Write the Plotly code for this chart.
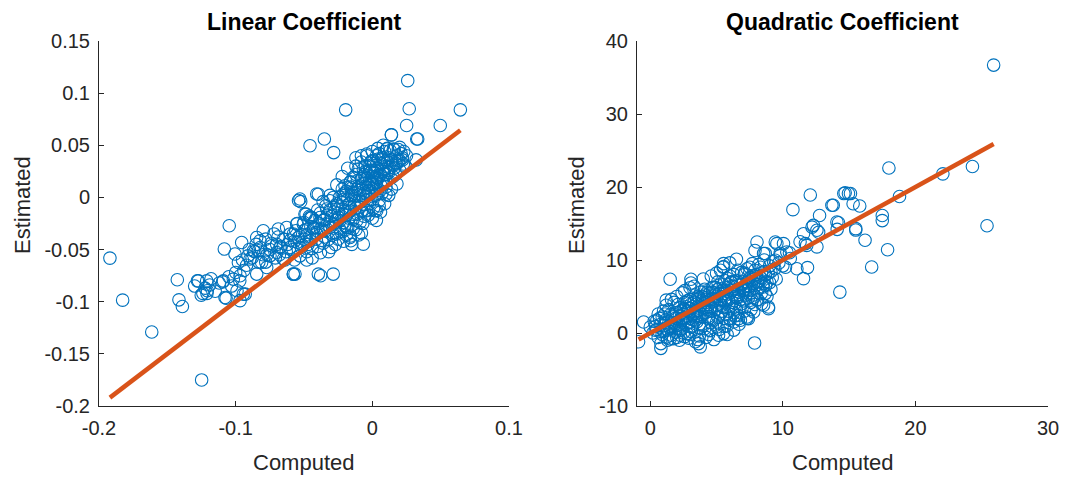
import plotly.graph_objects as go
from plotly.subplots import make_subplots

# Linear coefficient: computed vs. estimated
lin_computed = [
    0.0259, -0.0195, 0.027, 0.0644, 0.0251, 0.0497, -0.0456, -0.0351, -0.0283, 0.0139,
    0.0332, 0.032, -0.053, -0.0395, -0.0485, 0.002, -0.0524, -0.0158, -0.0066, -0.0578,
    -0.0378, -0.0286, -0.192, -0.1827, -0.1614, -0.1249, -0.1427, -0.1415, -0.139, -0.1047,
    -0.1083, -0.128, -0.1252, -0.1224, -0.1212, -0.1208, -0.1095, -0.107, -0.0968, -0.0956,
    -0.1005, -0.098, -0.1017, -0.0968, -0.093, -0.099, -0.0895, -0.087, -0.0822, -0.0798,
    -0.0846, -0.0773, -0.081, -0.0736, -0.0688, -0.0676, -0.0627, -0.0651, -0.0578, -0.0603,
    -0.0578, -0.0542, -0.0554, -0.070, -0.0749, -0.0846, -0.0834, -0.054, -0.1273, -0.130,
    -0.118, -0.124, -0.109, -0.1078, -0.0944, -0.0566, -0.0395, -0.0493, -0.0444,
    0.014, 0.0325, 0.0105, 0.0154, 0.0202, 0.0227, -0.0041, -0.0005, 0.0044, 0.0068,
    -0.0103, -0.0066, -0.014, -0.0163, -0.020, -0.0212, -0.0285, -0.031, -0.0334, -0.0407,
    -0.0383, -0.0456, -0.0505, -0.0041, 0.0007, 0.0032, 0.0056, 0.008, 0.0105, 0.0129,
    0.0178, -0.009, -0.0114, -0.0041, -0.0163, -0.014, -0.0212, -0.0237, -0.0285, -0.031,
    -0.0359, -0.0407, -0.0456, -0.0188, -0.0261, -0.0163, -0.0114, -0.0041, 0.0032, -0.0017,
    -0.009, -0.005, -0.002, 0.001, 0.004, -0.008, -0.003, 0.000, 0.003, -0.006,
    -0.010, -0.012, -0.015, -0.018, -0.013, -0.008, -0.002, 0.002, 0.006, 0.008,
    0.010, 0.012, -0.004, 0.000, 0.005, 0.009, 0.014, 0.016, 0.018, -0.020,
    -0.022, -0.025, -0.017, -0.011, -0.006, -0.027, -0.030, -0.033, -0.029, -0.024,
    -0.020, -0.035, -0.038, -0.041, -0.044, -0.040, -0.036, -0.032, -0.047, -0.050,
    -0.048, -0.052, -0.055, -0.058, -0.045, -0.042, -0.038, -0.034, -0.028, -0.024,
    -0.019, -0.016, -0.012, -0.008, -0.002, 0.001, 0.004, 0.007, 0.011, -0.004,
    -0.009, -0.014, -0.019, -0.025, -0.030, -0.010, 0.000, 0.005, -0.060, -0.062,
    -0.065, -0.068, -0.064, -0.057, -0.053, -0.050, -0.046, -0.055, -0.070, -0.072,
    -0.075, -0.078, -0.080, -0.085, -0.088, -0.090, -0.092, -0.095, -0.078, -0.007,
    -0.001, 0.003, 0.006, 0.009, 0.012, 0.015, 0.017, 0.020, 0.022, 0.024,
    -0.015, -0.011, -0.007, -0.003, 0.002, -0.026, -0.021, -0.017, -0.031, -0.036,
    0.007, 0.019, 0.023, -0.012, -0.005, 0.0, -0.016, -0.022, -0.043, -0.048,
    -0.057, -0.053, -0.051, -0.049, -0.046, -0.044, -0.043, -0.041, -0.039, -0.037,
    -0.035, -0.034, -0.033, -0.031, -0.029, -0.028, -0.027, -0.026, -0.025, -0.023,
    -0.022, -0.021, -0.020, -0.019, -0.018, -0.017, -0.016, -0.015, -0.014, -0.013,
    -0.012, -0.011, -0.010, -0.009, -0.008, -0.007, -0.006, -0.005, -0.004, -0.003,
    -0.002, -0.001, 0.000, 0.001, 0.002, 0.003, 0.004, 0.005, 0.006, 0.007,
    0.008, 0.009, 0.010, 0.011, 0.012, 0.013, 0.015, 0.016, 0.017, 0.019,
    0.021, 0.018, 0.014, 0.010, 0.005, 0.001, -0.003, -0.007, -0.012, -0.016,
    -0.021, -0.027, -0.032, -0.038, -0.044, -0.048, -0.036, -0.031, -0.040, -0.045,
    -0.050, -0.056, -0.060, -0.063, -0.067, -0.069, -0.071, -0.074, -0.077, -0.082,
    -0.083, -0.086, -0.091, -0.094, -0.097, -0.100, -0.103, -0.105, -0.112, -0.115,
    -0.119, -0.121, -0.026, -0.022, -0.018, -0.008, 0.004, 0.008, 0.011, 0.020,
    0.022, 0.025, 0.006, 0.003, -0.008, -0.015, 0.009, 0.012, -0.001, -0.005,
    0.003,
]
lin_estimated = [
    0.112, 0.084, 0.085, 0.084, 0.069, 0.069, 0.0496, 0.056, 0.043, 0.060,
    0.056, 0.036, -0.0015, 0.003, -0.016, -0.0128, -0.004, -0.0416, -0.0448, -0.0735,
    -0.0751, -0.0735, -0.0582, -0.0985, -0.129, -0.175, -0.079, -0.0982, -0.1046, -0.0272,
    -0.0495, -0.080, -0.0937, -0.087, -0.080, -0.0895, -0.081, -0.0966, -0.099, -0.0432,
    -0.0543, -0.0624, -0.0783, -0.0751, -0.0927, -0.0895, -0.0591, -0.0512, -0.0416, -0.032,
    -0.0735, -0.0672, -0.0624, -0.0464, -0.0303, -0.048, -0.0288, -0.0591, -0.0735, -0.048,
    -0.0351, -0.0384, -0.0255, -0.0528, -0.056, -0.0384, -0.0512, -0.003, -0.080, -0.085,
    -0.078, -0.092, -0.080, -0.096, -0.0927, -0.0735, -0.0735, -0.016, -0.0192,
    0.060, 0.056, 0.0464, 0.0464, 0.0352, 0.032, 0.0416, 0.0352, 0.0368, 0.032,
    0.0272, 0.0272, 0.0192, 0.0144, 0.0112, 0.0033, 0.0, -0.0032, -0.0111, 0.0033,
    -0.0192, -0.0192, -0.0255, 0.0096, 0.0128, 0.0192, 0.0064, 0.016, 0.0224, 0.0288,
    0.032, 0.0033, -0.0032, -0.0032, -0.0096, -0.016, -0.016, -0.0224, -0.0255, -0.0288,
    -0.032, -0.0351, -0.0416, -0.0288, -0.0351, -0.0384, -0.0224, -0.0128, -0.0128, 0.0033,
    -0.0096, 0.025, 0.030, 0.035, 0.028, 0.018, 0.012, 0.020, 0.008, 0.004,
    0.010, 0.022, 0.005, -0.002, -0.008, -0.004, -0.006, 0.002, 0.012, 0.025,
    0.030, 0.038, 0.040, 0.044, 0.042, 0.044, 0.036, 0.028, 0.040, -0.012,
    -0.005, -0.015, -0.020, -0.016, -0.018, -0.022, -0.018, -0.026, -0.034, -0.030,
    -0.027, -0.038, -0.030, -0.040, -0.035, -0.047, -0.044, -0.040, -0.045, -0.040,
    -0.052, -0.048, -0.043, -0.050, -0.028, -0.022, -0.015, -0.008, -0.010, 0.000,
    0.006, 0.015, 0.030, 0.034, 0.016, 0.010, 0.018, 0.004, 0.016, -0.012,
    -0.024, -0.030, -0.036, -0.040, -0.048, -0.036, -0.020, -0.008, -0.035, -0.045,
    -0.040, -0.055, -0.060, -0.060, -0.056, -0.032, -0.018, -0.025, -0.045, -0.035,
    -0.050, -0.040, -0.055, -0.045, -0.058, -0.050, -0.065, -0.060, -0.062, 0.020,
    0.024, 0.014, 0.022, 0.034, 0.026, 0.020, 0.033, 0.026, 0.038, 0.030,
    0.002, 0.008, 0.002, 0.006, 0.026, -0.008, -0.002, -0.014, -0.012, -0.022,
    0.038, 0.046, 0.044, 0.038, 0.014, 0.026, 0.010, 0.008, -0.030, -0.036,
    -0.042, -0.037, -0.046, -0.031, -0.038, -0.049, -0.029, -0.034, -0.025, -0.041,
    -0.021, -0.032, -0.017, -0.024, -0.036, -0.014, -0.028, -0.006, -0.019, -0.033,
    -0.011, -0.024, 0.002, -0.017, -0.029, -0.006, -0.013, 0.009, -0.021, 0.002,
    -0.010, 0.016, -0.003, 0.007, -0.013, 0.013, 0.022, 0.001, 0.018, 0.006,
    0.026, -0.002, 0.013, 0.024, 0.017, 0.031, 0.004, 0.021, 0.033, 0.015,
    0.038, 0.022, 0.010, 0.034, 0.024, 0.045, 0.031, 0.046, 0.022, 0.035,
    0.042, 0.013, 0.008, 0.003, -0.003, -0.010, -0.017, -0.025, -0.031, -0.037,
    -0.042, -0.045, -0.052, -0.053, -0.058, -0.060, -0.004, 0.002, -0.012, -0.020,
    -0.024, -0.032, -0.041, -0.052, -0.047, -0.038, -0.058, -0.044, -0.055, -0.048,
    -0.062, -0.052, -0.056, -0.070, -0.080, -0.072, -0.085, -0.076, -0.082, -0.090,
    -0.084, -0.092, 0.012, 0.020, 0.028, 0.040, 0.047, 0.050, 0.047, 0.048,
    0.036, 0.040, -0.014, -0.022, -0.034, -0.045, -0.006, 0.002, 0.034, 0.030,
    0.040,
]

# Quadratic coefficient: computed vs. estimated
quad_computed = [
    25.9, 18.0, 22.07, 24.3, 18.8, 17.5, 25.4, 14.7, 15.1, 13.8,
    15.3, 15.8, 14.2, 15.5, 14.1, 15.5, 16.2, 17.9, 16.7, 14.3,
    17.5, 12.07, 10.76, 13.7, 14.6, 14.95, 12.77, 12.3, 12.57, 14.08,
    11.56, 11.7, 12.57, 11.3, 11.06, 11.86, 11.56, 8.05, 8.55, 9.43,
    10.05, 10.3, 9.43, 10.56, 5.53, 8.3, 8.67, 8.92, 8.55, 7.8,
    7.3, 6.8, 6.3, 7.8, 7.04, 1.5, 3.07, 3.07, 1.2, -0.5,
    -0.88, 0.8, 0.8, 3.77, 3.64, 7.87, 5.53, 7.9, 8.67, 9.55,
    9.8, 12.2, 12.7, 11.8, 8.55, 8.05, 8.92, 7.41, 6.66, 5.53,
    5.15, 4.52, 5.03, 6.03, 2.77, 2.26, 1.76, 1.26, 1.0, 0.38,
    0.0, 0.5,
    0.5, 0.8, 1.0, 1.2, 1.4, 1.5, 1.6, 1.8, 2.0, 2.1,
    2.2, 2.3, 2.5, 2.5, 2.6, 2.7, 2.8, 3.0, 3.0, 3.1,
    3.2, 3.3, 3.4, 3.5, 3.5, 3.6, 3.7, 3.8, 3.8, 3.9,
    4.0, 4.0, 4.1, 4.2, 4.3, 4.4, 4.5, 4.5, 4.6, 4.7,
    4.8, 4.9, 5.0, 5.0, 5.1, 5.2, 5.3, 5.4, 5.5, 5.5,
    5.6, 5.7, 5.8, 5.9, 6.0, 6.0, 6.1, 6.2, 6.3, 6.4,
    6.5, 6.5, 6.6, 6.7, 6.8, 6.9, 7.0, 7.0, 7.1, 7.2,
    7.3, 7.4, 7.5, 7.6, 7.7, 7.8, 7.9, 8.0, 8.1, 8.2,
    8.3, 8.5, 8.6, 8.8, 9.0, 9.2, 9.4, 9.7, 2.0, 3.0,
    1.8, 2.4, 4.0, 5.0, 5.5, 6.0, 6.5, 1.0, 0.3, 0.6,
    1.3, 2.2, 2.9, 3.4, 4.2, 4.8, 5.8, 6.3,
    1.1, 1.7, 2.4, 2.9, 3.3, 3.7, 4.1, 4.6, 5.2, 5.7,
    6.2, 6.7, 7.2, 7.6, 8.1, 8.4, 0.9, 1.5, 2.3, 2.7,
    3.2, 3.6, 4.4, 4.9, 5.4, 5.9, 6.4, 6.9, 7.4, 2.0,
    2.6, 3.1, 3.9, 4.3, 4.7, 5.1, 5.6, 6.1, 6.6, 7.1,
    1.9, 2.8, 3.5, 4.2, 5.3, 6.8, 7.5, 8.7, 9.1, 10.0,
    0.4, 0.7, 0.9, 1.1, 1.3, 1.4, 1.6, 1.7, 1.9, 2.0,
    2.1, 2.2, 2.3, 2.4, 2.5, 2.6, 2.7, 2.8, 2.9, 3.0,
    3.1, 3.2, 3.3, 3.4, 3.5, 3.6, 3.7, 3.8, 3.9, 4.0,
    4.1, 4.2, 4.3, 4.4, 4.5, 4.6, 4.7, 4.8, 4.9, 5.0,
    5.1, 5.2, 5.3, 5.4, 5.5, 5.6, 5.7, 5.8, 5.9, 6.0,
    6.1, 6.2, 6.3, 6.4, 6.5, 6.6, 6.7, 6.8, 6.9, 7.0,
    7.1, 7.2, 7.3, 7.4, 7.5, 7.6, 7.7, 7.8, 7.9, 8.0,
    8.1, 8.2, 8.3, 8.4, 8.6, 8.7, 8.9, 9.1, 9.3, 9.5,
    9.8, 10.2, 10.5, 3.0, 3.6, 4.4, 5.2, 5.8, 6.6, 7.3,
    2.0, 1.5, 1.2, 1.6, 2.6, 3.3, 4.6, 5.3, 0.2, 0.6,
    1.0, 2.2, 3.4, 4.2, 5.4, 6.2, 7.0, 7.8, 3.8, 4.6,
    5.6, 6.4, 7.6, 8.4, 8.8, 9.0,
]
quad_estimated = [
    36.7, 22.6, 21.8, 22.8, 18.7, 16.1, 14.7, 19.2, 19.1, 17.5,
    17.7, 17.4, 15.1, 14.3, 14.2, 14.1, 12.7, 11.4, 9.04, 5.6,
    15.4, 18.9, 16.9, 17.5, 19.1, 19.1, 16.1, 14.75, 14.07, 15.2,
    13.6, 12.25, 11.8, 12.5, 8.8, 8.96, 7.45, 12.47, 10.9, 12.47,
    12.25, 11.1, 9.96, 10.2, 9.5, 7.2, 5.4, 3.56, 3.8, 2.88,
    2.2, 1.74, 1.5, 4.9, 5.85, 7.36, 7.36, 6.85, 4.5, 1.5,
    -1.2, -2.1, -1.45, -1.9, -1.45, -1.36, 9.1, 11.3, 10.9, 12.25,
    10.9, 14.5, 13.8, 12.0, 6.77, 4.5, 3.34, 1.97, 1.97, -0.08,
    -0.31, 0.37, 0.82, 1.74, -0.08, -0.31, -0.77, -0.55, 0.37, 0.37,
    0.82, 1.74,
    0.5, 1.2, 0.2, 1.8, 0.9, 2.5, -0.3, 1.4, 2.8, 0.6,
    3.5, 1.9, 0.0, 2.6, 4.2, 1.2, 3.0, 2.0, 4.6, 0.8,
    3.6, 2.7, 5.2, 1.5, 4.0, 3.1, -0.4, 2.3, 5.6, 4.4,
    3.5, 1.0, 6.0, 2.8, 4.9, 3.9, 0.3, 5.5, 2.0, 4.3,
    6.3, 3.2, 5.0, 1.5, 7.0, 4.0, 2.6, 5.8, 3.5, 6.6,
    0.9, 4.8, 7.5, 3.0, 5.5, 2.0, 6.9, 4.2, 8.0, 5.0,
    3.3, 7.2, 6.0, 1.2, 4.6, 8.3, 5.8, 7.0, 3.0, 6.4,
    8.8, 4.8, 7.6, 5.5, 9.5, 6.8, 3.9, 8.0, 5.9, 7.1,
    9.0, 6.3, 8.4, 7.0, 9.2, 7.6, 8.8, 9.6, 5.0, 6.2,
    4.2, 5.5, 7.4, 8.2, 9.0, 9.6, 10.1, 3.0, 1.6, -0.6,
    -1.0, -1.0, -0.7, -1.2, -0.6, -0.9, -0.2, 0.4,
    1.4, 2.2, 2.0, 3.4, 2.2, 4.8, 5.2, 3.4, 5.4, 4.4,
    6.0, 5.2, 6.0, 7.6, 7.0, 8.2, 2.2, 0.6, 3.0, 3.6,
    1.0, 2.4, 2.0, 6.2, 3.8, 6.6, 2.4, 4.0, 6.0, 1.0,
    3.2, 4.0, 5.0, 3.2, 5.6, 6.0, 4.4, 7.0, 4.8, 8.2,
    2.0, 2.2, 4.6, 4.6, 4.6, 6.6, 6.4, 8.0, 8.4, 9.2,
    0.9, 2.0, -0.2, 2.6, 0.4, 3.2, 1.1, 2.3, 0.1, 1.5,
    3.9, 2.4, 0.4, 1.7, 3.3, -0.5, 2.1, 4.4, 1.4, 3.4,
    0.2, 2.5, 4.2, 1.8, 3.0, 5.0, 1.2, 3.7, 2.5, 4.9,
    0.6, 3.4, 5.6, 2.3, 4.5, 3.0, 6.2, 1.8, 5.2, 3.8,
    2.2, 6.1, 4.5, 3.0, 5.4, 7.2, 2.5, 6.2, 4.6, 7.8,
    3.7, 5.8, 2.8, 7.0, 4.8, 8.6, 5.6, 3.6, 6.6, 4.4,
    8.0, 5.2, 7.0, 6.0, 9.0, 4.2, 7.3, 5.2, 8.6, 6.6,
    4.6, 9.4, 7.6, 5.5, 10.0, 6.5, 8.2, 6.0, 9.8, 7.4,
    10.6, 9.0, 11.0, -0.2, -0.9, -0.2, 0.5, 1.0, 2.4, 2.0,
    -0.6, -0.8, 3.8, 4.6, 5.8, 6.4, 7.8, 8.6, 0.0, 2.6,
    1.0, 1.2, 2.6, 4.2, 5.0, 6.4, 6.2, 7.8, 0.6, 1.4,
    2.0, 3.6, 3.2, 4.0, 5.0, 6.9,
]

lin_xticks = [-0.2, -0.1, 0, 0.1]
lin_xlabels = ["-0.2", "-0.1", "0", "0.1"]
lin_yticks = [-0.2, -0.15, -0.1, -0.05, 0, 0.05, 0.1, 0.15]
lin_ylabels = ["-0.2", "-0.15", "-0.1", "-0.05", "0", "0.05", "0.1", "0.15"]
quad_xticks = [0, 10, 20, 30]
quad_xlabels = ["0", "10", "20", "30"]
quad_yticks = [-10, 0, 10, 20, 30, 40]
quad_ylabels = ["-10", "0", "10", "20", "30", "40"]

BLUE = "#0072BD"
ORANGE = "#D95319"
AXIS = "#262626"
FONT = "Liberation Sans, Arial, sans-serif"

X1 = [99 / 1065, 509 / 1065]
X2 = [637 / 1065, 1048 / 1065]
YD = [1 - 406 / 478, 1 - 41 / 478]

fig = make_subplots(rows=1, cols=2)


def add_panel(col, xs, ys):
    fig.add_trace(go.Scatter(
        x=xs, y=ys, mode="markers",
        marker=dict(symbol="circle-open", size=12.5, color=BLUE,
                    line=dict(width=1.1, color=BLUE)),
        showlegend=False, hoverinfo="x+y"), row=1, col=col)
    lo, hi = min(xs), max(xs)
    # identity line across the range of computed values
    fig.add_trace(go.Scatter(
        x=[lo, hi], y=[lo, hi], mode="lines",
        line=dict(color=ORANGE, width=4.5),
        showlegend=False, hoverinfo="skip"), row=1, col=col)


add_panel(1, lin_computed, lin_estimated)
add_panel(2, quad_computed, quad_estimated)

axis_common = dict(
    showline=True, linecolor=AXIS, linewidth=1, mirror=False,
    ticks="inside", ticklen=5, tickwidth=1, tickcolor=AXIS,
    showgrid=False, zeroline=False, automargin=False,
    tickfont=dict(family=FONT, size=20, color=AXIS),
)

fig.update_xaxes(**axis_common, ticklabelstandoff=4)
fig.update_yaxes(**axis_common, ticklabelstandoff=4)

fig.update_layout(
    xaxis=dict(domain=X1, range=[-0.2, 0.1], tickvals=lin_xticks, ticktext=lin_xlabels),
    yaxis=dict(domain=YD, range=[-0.2, 0.15], tickvals=lin_yticks, ticktext=lin_ylabels),
    xaxis2=dict(domain=X2, range=[-1, 30], tickvals=quad_xticks, ticktext=quad_xlabels),
    yaxis2=dict(domain=YD, range=[-10, 40], tickvals=quad_yticks, ticktext=quad_ylabels),
    width=1065, height=478,
    margin=dict(l=0, r=0, t=0, b=0),
    paper_bgcolor="white", plot_bgcolor="white",
)


def label(text, x, y, angle=0, bold=False, size=22):
    fig.add_annotation(text=f"<b>{text}</b>" if bold else text,
                       x=x, y=y, xref="paper", yref="paper",
                       xanchor="center", yanchor="middle", textangle=angle,
                       showarrow=False,
                       font=dict(family=FONT, size=size,
                                 color="black" if bold else AXIS))


for dom in (X1, X2):
    mid = (dom[0] + dom[1]) / 2
    label("Computed", mid, 1 - 462 / 478)
label("Estimated", 22 / 1065, 1 - 205 / 478, angle=-90)
label("Estimated", 576 / 1065, 1 - 205 / 478, angle=-90)
label("Linear Coefficient", sum(X1) / 2, 1 - 22 / 478, bold=True, size=23)
label("Quadratic Coefficient", sum(X2) / 2, 1 - 22 / 478, bold=True, size=23)

fig.write_html("out.html")
